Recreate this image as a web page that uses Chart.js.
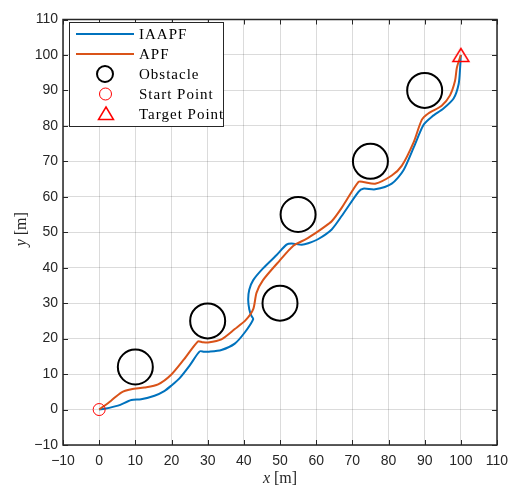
<!DOCTYPE html>
<html>
<head>
<meta charset="utf-8">
<script src="https://cdn.jsdelivr.net/npm/chart.js@4"></script>
<style>
  body { margin: 0; background: #fff; }
  canvas { display: block; }
</style>
</head>
<body>
<canvas id="myChart" width="519" height="490"></canvas>
<script>
// path of the improved method (blue)
const iaapfX = [0, 1.5, 5.2, 8.9, 11.6, 15.3, 18, 20, 22.2, 25, 27.8, 29, 30.1, 33.8, 37.5, 40.3, 42.6,
  42.1, 41.5, 41.2, 41.5, 42.6, 45.3, 49, 51.8, 53.2, 56, 57.8, 60.6, 64.3, 67, 71.7, 73, 76.3,
  80.9, 84.1, 87, 89.7, 92, 95.2, 98, 99.4, 99.8, 100]
const iaapfY = [0, 0.2, 1.1, 2.7, 2.9, 3.9, 5.2, 6.8, 8.8, 12.4, 16.4, 16.3, 16.3, 16.8, 18.6, 21.8, 25.5,
  26.4, 28.3, 31, 33.8, 36.5, 39.8, 43.5, 46.5, 46.8, 46.5, 46.9, 48.1, 50.8, 54.5, 61.4, 62.3, 62.1,
  63.7, 67.4, 74, 80.3, 82.6, 84.9, 87.7, 91.8, 96.4, 100]

// path of the classic method (orange)
const apfX = [0, 3.3, 6.1, 8.9, 12.5, 16.3, 19.9, 23.5, 27.3, 28.5, 30.1, 33.8, 37.5, 40.5, 42.6,
  43.5, 45.3, 49.9, 53.7, 57.3, 59.6, 62, 64.3, 67, 71.7, 73, 76.3, 80.9, 83.7, 87, 89.2, 91,
  94.7, 97, 98.4, 98.9, 100]
const apfY = [0, 2.5, 4.8, 5.7, 6.2, 7.1, 9.8, 14.2, 19.2, 19.0, 18.9, 19.8, 22.7, 25.2, 28.3,
  32.9, 36.5, 42, 46.2, 48.1, 49.6, 51.3, 53.1, 56.8, 64.2, 64.2, 63.7, 66, 68.8, 75.5, 81.7, 83.5,
  85.7, 88.6, 92.7, 96.4, 100]

const obstacleX = [10, 30, 50, 55, 75, 90]
const obstacleY = [12, 25, 30, 55, 70, 90]
const startPoint = { x: 0, y: 0 }
const targetPoint = { x: 100, y: 100 }

const legendLabels = ['IAAPF', 'APF', 'Obstacle', 'Start Point', 'Target Point']
const axisMin = -10
const axisMax = 110
const tickStep = 10

const blue = '#0072BD'
const orange = '#D95319'
const axisColor = '#262626'

function toPoints(xs, ys) {
  return xs.map(function(x, i) { return { x: x, y: ys[i] } })
}

function minusSign(v) {
  return String(v).replace('-', '\u2212')
}

// MATLAB '^' marker, centred on its box (Chart.js triangle sits high)
function triangleMarker() {
  const cv = document.createElement('canvas')
  cv.width = 22
  cv.height = 22
  const c = cv.getContext('2d')
  c.strokeStyle = '#ff0000'
  c.lineWidth = 1.5
  c.beginPath()
  c.moveTo(11, 4.5)
  c.lineTo(19, 17.5)
  c.lineTo(3, 17.5)
  c.closePath()
  c.stroke()
  return cv
}

// box, inner ticks, axis titles and legend, MATLAB style
const framePlugin = {
  id: 'frame',
  afterDraw(chart) {
    const c = chart.ctx
    const a = chart.chartArea
    const xs = chart.scales.x
    const ys = chart.scales.y
    c.save()
    c.strokeStyle = axisColor
    c.lineWidth = 1
    for (let v = axisMin; v <= axisMax; v += tickStep) {
      const px = Math.round(xs.getPixelForValue(v)) + 0.5
      const py = Math.round(ys.getPixelForValue(v)) + 0.5
      c.beginPath()
      c.moveTo(px, a.bottom); c.lineTo(px, a.bottom - 5)
      c.moveTo(px, a.top); c.lineTo(px, a.top + 5)
      c.moveTo(a.left, py); c.lineTo(a.left + 5, py)
      c.moveTo(a.right, py); c.lineTo(a.right - 5, py)
      c.stroke()
    }
    c.lineWidth = 1.5
    c.strokeRect(a.left, a.top, a.right - a.left, a.bottom - a.top)

    // axis titles
    c.fillStyle = axisColor
    c.textBaseline = 'middle'
    c.textAlign = 'left'
    const cx = (a.left + a.right) / 2
    c.font = 'italic 16px "Liberation Serif"'
    const wx = c.measureText('x ').width
    c.font = '16px "Liberation Serif"'
    const wm = c.measureText('[m]').width
    let sx = cx - (wx + wm) / 2
    c.font = 'italic 16px "Liberation Serif"'
    c.fillText('x ', sx, 479)
    c.font = '16px "Liberation Serif"'
    c.fillText('[m]', sx + wx, 479)

    c.save()
    c.translate(22, (a.top + a.bottom) / 2 - 3)
    c.rotate(-Math.PI / 2)
    c.font = 'italic 16px "Liberation Serif"'
    const wy = c.measureText('y ').width
    sx = -(wy + wm) / 2
    c.fillText('y ', sx, 0)
    c.font = '16px "Liberation Serif"'
    c.fillText('[m]', sx + wy, 0)
    c.restore()

    // legend
    const lx = 69.5, ly = 22.5, lw = 154, lh = 104
    c.fillStyle = '#fff'
    c.fillRect(lx, ly, lw, lh)
    c.strokeStyle = axisColor
    c.lineWidth = 1
    c.strokeRect(lx, ly, lw, lh)
    const rowY = [34, 54, 74, 94, 114]
    c.lineWidth = 2
    c.strokeStyle = blue
    c.beginPath(); c.moveTo(76, rowY[0]); c.lineTo(134, rowY[0]); c.stroke()
    c.strokeStyle = orange
    c.beginPath(); c.moveTo(76, rowY[1]); c.lineTo(134, rowY[1]); c.stroke()
    c.strokeStyle = '#000'
    c.lineWidth = 2
    c.beginPath(); c.arc(105, rowY[2], 8, 0, Math.PI * 2); c.stroke()
    c.strokeStyle = '#ff0000'
    c.lineWidth = 1
    c.beginPath(); c.arc(105.5, rowY[3], 6, 0, Math.PI * 2); c.stroke()
    c.lineWidth = 1.5
    c.beginPath()
    c.moveTo(106, rowY[4] - 7)
    c.lineTo(113.5, rowY[4] + 5.5)
    c.lineTo(98.5, rowY[4] + 5.5)
    c.closePath()
    c.stroke()
    c.fillStyle = '#000'
    c.font = '15px "Liberation Serif"'
    c.letterSpacing = '1px'
    for (let i = 0; i < legendLabels.length; i++) {
      c.fillText(legendLabels[i], 139, rowY[i] + 1)
    }
    c.restore()
  }
}

const ctx = document.getElementById('myChart').getContext('2d')
const myChart = new Chart(ctx, {
  type: 'scatter',
  data: {
    datasets: [
      {
        label: legendLabels[0],
        data: toPoints(iaapfX, iaapfY),
        showLine: true,
        borderColor: blue,
        borderWidth: 2,
        pointRadius: 0,
        tension: 0.25,
        order: 5
      },
      {
        label: legendLabels[1],
        data: toPoints(apfX, apfY),
        showLine: true,
        borderColor: orange,
        borderWidth: 2,
        pointRadius: 0,
        tension: 0.25,
        order: 4
      },
      {
        label: legendLabels[2],
        data: toPoints(obstacleX, obstacleY),
        pointStyle: 'circle',
        pointRadius: 17.5,
        borderColor: '#000',
        backgroundColor: 'rgba(0,0,0,0)',
        borderWidth: 2,
        order: 3
      },
      {
        label: legendLabels[3],
        data: [startPoint],
        pointStyle: 'circle',
        pointRadius: 6,
        borderColor: '#ff0000',
        backgroundColor: 'rgba(0,0,0,0)',
        borderWidth: 1,
        order: 2
      },
      {
        label: legendLabels[4],
        data: [targetPoint],
        pointStyle: triangleMarker(),
        pointRadius: 9,
        order: 1
      }
    ]
  },
  options: {
    responsive: false,
    animation: false,
    devicePixelRatio: 1,
    layout: { padding: { top: 11, right: 22, left: 0, bottom: 0 } },
    plugins: {
      legend: { display: false },
      tooltip: { enabled: false }
    },
    scales: {
      x: {
        type: 'linear',
        min: axisMin,
        max: axisMax,
        afterFit: function(scale) { scale.height = 45 },
        ticks: {
          stepSize: tickStep,
          autoSkip: false,
          maxRotation: 0,
          padding: 8,
          color: axisColor,
          font: { family: 'Liberation Sans', size: 14 },
          callback: minusSign
        },
        grid: { color: 'rgba(0,0,0,0.14)', drawTicks: false },
        border: { display: false }
      },
      y: {
        type: 'linear',
        min: axisMin,
        max: axisMax,
        afterFit: function(scale) { scale.width = 63 },
        ticks: {
          stepSize: tickStep,
          autoSkip: false,
          padding: 5,
          color: axisColor,
          font: { family: 'Liberation Sans', size: 14 },
          callback: minusSign
        },
        grid: { color: 'rgba(0,0,0,0.14)', drawTicks: false },
        border: { display: false }
      }
    }
  },
  plugins: [framePlugin]
})
</script>
</body>
</html>
